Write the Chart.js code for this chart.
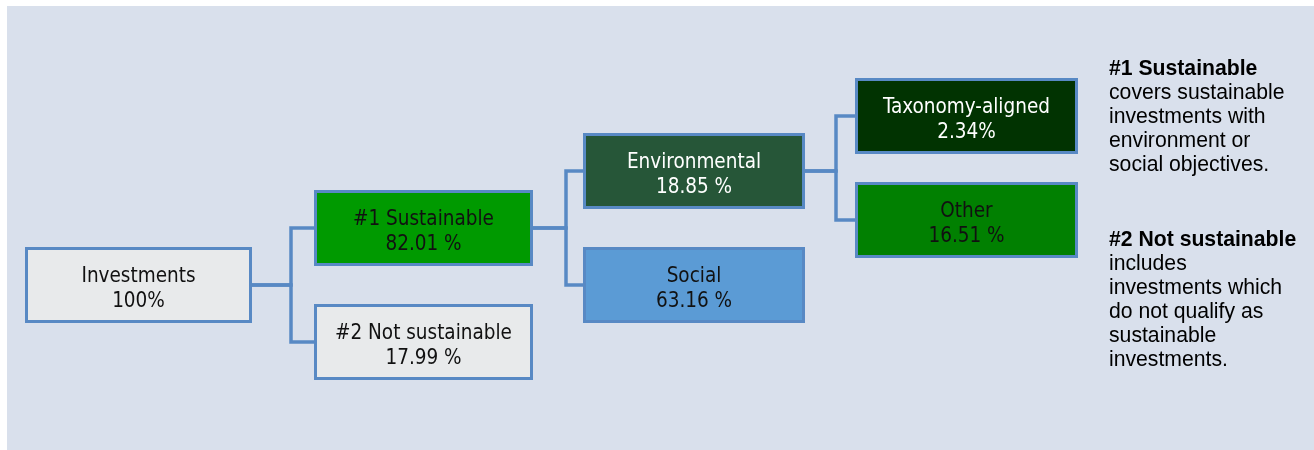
<!DOCTYPE html>
<html>
<head>
<meta charset="utf-8">
<title>Sustainable investment breakdown</title>
<script src="https://cdn.jsdelivr.net/npm/chart.js@4.4.1/dist/chart.umd.min.js"></script>
<style>
    html, body { margin: 0; padding: 0; background: #ffffff; }
    #treeChart { display: block; }
</style>
</head>
<body>
<canvas id="treeChart" width="1314" height="450"></canvas>
<script>
// --- data ---
const nodeLabels = ['Investments', '#1 Sustainable', '#2 Not sustainable', 'Environmental', 'Social', 'Taxonomy-aligned', 'Other'];
const nodeValues = [100, 82.01, 17.99, 18.85, 63.16, 2.34, 16.51];
const nodeValueText = ['100%', '82.01 %', '17.99 %', '18.85 %', '63.16 %', '2.34%', '16.51 %'];
const nodeParents = [null, 0, 0, 1, 1, 3, 3];

const noteTitles = ['#1 Sustainable', '#2 Not sustainable'];
const noteLines = [
    ['covers sustainable', 'investments with', 'environment or', 'social objectives.'],
    ['includes', 'investments which', 'do not qualify as', 'sustainable', 'investments.']
];

// --- layout & style ---
const columnLeft = [25, 314, 583, 855];
const columnWidth = [227, 219, 222, 223];
const elbowGap = [0, 23, 17, 19];          // vertical connector sits this far left of the child column
const childOffsets = [null, [-57, 57], [-57, 57], [-55, 49]];
const rootCenterY = 285;
const boxHeight = 76;

const nodeFill = ['#e8eaeb', '#009a00', '#e8eaeb', '#265638', '#5b9bd5', '#013301', '#018001'];
const nodeText = ['#111111', '#111111', '#111111', '#ffffff', '#111111', '#ffffff', '#111111'];
const lineColor = '#5889c4';
const panelColor = '#d9e0ec';
const boxFont = '20.5px "DejaVu Sans Condensed", "DejaVu Sans", sans-serif';
const noteFont = '21.2px "Liberation Sans", Arial, sans-serif';

// work out depth and centre of every node from the parent list
const nodeDepth = nodeParents.map(function(p, i) {
    let d = 0, k = i;
    while (nodeParents[k] !== null) { k = nodeParents[k]; d++; }
    return d;
});
const nodeCenterY = [];
nodeParents.forEach(function(p, i) {
    if (p === null) { nodeCenterY[i] = rootCenterY; return; }
    const siblings = nodeParents.map((q, j) => q === p ? j : -1).filter(j => j >= 0);
    const offs = childOffsets[nodeDepth[i]];
    nodeCenterY[i] = nodeCenterY[p] + offs[siblings.indexOf(i)];
});
const nodePoints = nodeLabels.map(function(label, i) {
    const d = nodeDepth[i];
    return { x: columnLeft[d] + columnWidth[d] / 2, y: nodeCenterY[i], label: label, value: nodeValues[i] };
});

// elbow connectors, parent right edge -> child left edge
const connectorSets = [];
nodeParents.forEach(function(p, i) {
    if (p === null) return;
    const dp = nodeDepth[p], dc = nodeDepth[i];
    const startX = columnLeft[dp] + columnWidth[dp];
    const endX = columnLeft[dc];
    const elbowX = endX - elbowGap[dc];
    connectorSets.push({
        type: 'line',
        data: [
            { x: startX, y: nodeCenterY[p] },
            { x: elbowX, y: nodeCenterY[p] },
            { x: elbowX, y: nodeCenterY[i] },
            { x: endX, y: nodeCenterY[i] }
        ],
        borderColor: lineColor,
        borderWidth: 3.5,
        borderJoinStyle: 'miter',
        borderCapStyle: 'butt',
        pointRadius: 0,
        showLine: true,
        fill: false,
        tension: 0
    });
});

const panelPlugin = {
    id: 'panel',
    beforeDraw(chart) {
        const ctx = chart.ctx;
        const xs = chart.scales.x, ys = chart.scales.y;
        ctx.save();
        ctx.fillStyle = panelColor;
        const x0 = xs.getPixelForValue(7), y0 = ys.getPixelForValue(6);
        ctx.fillRect(x0, y0, xs.getPixelForValue(1314) - x0, ys.getPixelForValue(450) - y0);
        ctx.restore();
    }
};

const boxPlugin = {
    id: 'boxes',
    afterDatasetsDraw(chart) {
        const ctx = chart.ctx;
        const xs = chart.scales.x, ys = chart.scales.y;
        const meta = chart.getDatasetMeta(0);
        ctx.save();
        meta.data.forEach(function(pt, i) {
            const d = nodeDepth[i];
            const w = xs.getPixelForValue(columnWidth[d]) - xs.getPixelForValue(0);
            const h = ys.getPixelForValue(boxHeight) - ys.getPixelForValue(0);
            const left = pt.x - w / 2, top = pt.y - h / 2;
            ctx.fillStyle = nodeFill[i];
            ctx.fillRect(left, top, w, h);
            ctx.strokeStyle = lineColor;
            ctx.lineWidth = 3;
            ctx.strokeRect(left + 1.5, top + 1.5, w - 3, h - 3);

            ctx.fillStyle = nodeText[i];
            ctx.font = boxFont;
            ctx.textAlign = 'center';
            ctx.textBaseline = 'alphabetic';
            ctx.fillText(nodeLabels[i], pt.x, pt.y - 3.5);
            ctx.fillText(nodeValueText[i], pt.x, pt.y + 21.5);
        });

        // explanatory notes on the right
        const noteX = xs.getPixelForValue(1109);
        const noteTop = [75, 246];
        ctx.textAlign = 'left';
        ctx.fillStyle = '#000000';
        noteTitles.forEach(function(title, k) {
            let y = ys.getPixelForValue(noteTop[k]);
            ctx.font = 'bold ' + noteFont;
            ctx.fillText(title, noteX, y);
            ctx.font = noteFont;
            noteLines[k].forEach(function(line) {
                y += 24;
                ctx.fillText(line, noteX, y);
            });
        });
        ctx.restore();
    }
};

new Chart(document.getElementById('treeChart'), {
    type: 'scatter',
    data: {
        datasets: [{
            label: 'Nodes',
            data: nodePoints,
            pointRadius: 0,
            pointHoverRadius: 0,
            showLine: false
        }].concat(connectorSets)
    },
    options: {
        responsive: false,
        animation: false,
        devicePixelRatio: 1,
        layout: { padding: 0 },
        scales: {
            x: { type: 'linear', min: 0, max: 1314, display: false },
            y: { type: 'linear', min: 0, max: 450, reverse: true, display: false }
        },
        plugins: {
            legend: { display: false },
            tooltip: { enabled: false }
        },
        events: []
    },
    plugins: [panelPlugin, boxPlugin]
});
</script>
</body>
</html>
